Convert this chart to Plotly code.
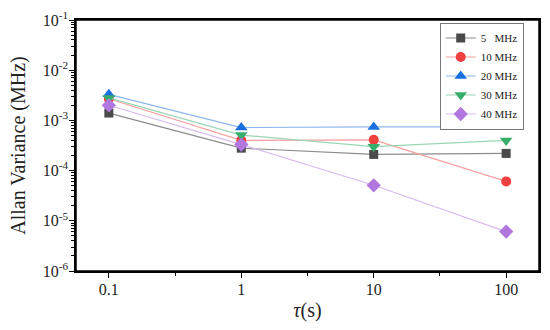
import plotly.graph_objects as go

tau = [0.1, 1, 10, 100]
names = ["5\u00a0\u00a0 MHz", "10 MHz", "20 MHz", "30 MHz", "40 MHz"]
v5 = [1.4e-3, 2.8e-4, 2.1e-4, 2.2e-4]
v10 = [2.7e-3, 4.0e-4, 4.1e-4, 6.1e-5]
v20 = [3.3e-3, 7.2e-4, 7.4e-4, 7.4e-4]
v30 = [2.8e-3, 5.1e-4, 3.0e-4, 4.0e-4]
v40 = [2.0e-3, 3.3e-4, 5.1e-5, 6.1e-6]
series = [v5, v10, v20, v30, v40]

marker_colors = ["#4a4a4a", "#F14040", "#1A6FDF", "#37AD6B", "#B177DE"]
line_colors = ["#8c8c8c", "#F7A0A0", "#8DB7EF", "#9AD6B4", "#D8BBEE"]
symbols = ["square", "circle", "triangle-up", "triangle-down", "diamond"]
msizes = [9, 10, 11, 11, 11]

ytick_vals = [1e-6, 1e-5, 1e-4, 1e-3, 1e-2, 1e-1]
ytick_text = ["10<sup>-6</sup>", "10<sup>-5</sup>", "10<sup>-4</sup>",
              "10<sup>-3</sup>", "10<sup>-2</sup>", "10<sup>-1</sup>"]
xtick_vals = [0.1, 1, 10, 100]
xtick_text = ["0.1", "1", "10", "100"]

# all tick positions (major + minor) on the main axes; labels only at majors
y_all = []
y_all_text = []
for e in range(-6, -1):
    for m in range(1, 10):
        y_all.append(m * 10.0 ** e)
        y_all_text.append(ytick_text[e + 6] if m == 1 else "")
y_all.append(1e-1)
y_all_text.append(ytick_text[-1])

x_all = []
x_all_text = []
for i, (v, t) in enumerate(zip(xtick_vals, xtick_text)):
    x_all.append(v)
    x_all_text.append(t)
    if i < len(xtick_vals) - 1:
        x_all.append(v * 10 ** 0.5)
        x_all_text.append("")

fig = go.Figure()
for n, v, mc, lc, s, ms in zip(names, series, marker_colors, line_colors, symbols, msizes):
    fig.add_trace(go.Scatter(
        x=tau, y=v, name=n, mode="lines+markers",
        line=dict(color=lc, width=1.2),
        marker=dict(color=mc, symbol=s, size=ms, line=dict(width=0)),
    ))

# invisible trace to create overlay axes for the longer major ticks
fig.add_trace(go.Scatter(x=[1], y=[1e-3], xaxis="x2", yaxis="y2", mode="markers",
                         marker=dict(opacity=0), showlegend=False, hoverinfo="skip"))

font_family = "Liberation Serif, DejaVu Serif, serif"
xr = [-1.248, 2.248]
yr = [-6, -1]
fig.update_layout(
    width=550, height=330,
    margin=dict(l=76, r=9, t=16, b=59),
    paper_bgcolor="white", plot_bgcolor="white",
    font=dict(family=font_family, color="#222222", size=14),
    showlegend=True,
    legend=dict(
        x=0.967, y=0.99, xanchor="right", yanchor="top",
        bordercolor="#777777", borderwidth=1, bgcolor="white",
        font=dict(family="Liberation Serif, serif", size=11),
        tracegroupgap=0, itemwidth=30,
    ),
    xaxis=dict(
        type="log", range=xr,
        tickmode="array", tickvals=x_all, ticktext=x_all_text,
        ticks="outside", ticklen=3, tickwidth=1, tickcolor="black",
        showline=True, linecolor="black", linewidth=1.5, mirror=True,
        showgrid=False, zeroline=False,
        title=dict(text="<i>τ</i>(s)", font=dict(size=20, family=font_family), standoff=6),
        tickfont=dict(size=16),
    ),
    yaxis=dict(
        type="log", range=yr,
        tickmode="array", tickvals=y_all, ticktext=y_all_text,
        ticks="outside", ticklen=3, tickwidth=1, tickcolor="black",
        showline=True, linecolor="black", linewidth=1.5, mirror=True,
        showgrid=False, zeroline=False,
        title=dict(text="Allan Variance (MHz)", font=dict(size=20, family=font_family), standoff=12),
        tickfont=dict(size=16),
    ),
    xaxis2=dict(
        type="log", range=xr, overlaying="x", anchor="y", side="bottom",
        tickmode="array", tickvals=xtick_vals, ticks="outside", ticklen=6, tickwidth=1.2,
        tickcolor="black", showticklabels=False, showline=False, showgrid=False, zeroline=False,
    ),
    yaxis2=dict(
        type="log", range=yr, overlaying="y", anchor="x", side="left",
        tickmode="array", tickvals=ytick_vals, ticks="outside", ticklen=6, tickwidth=1.2,
        tickcolor="black", showticklabels=False, showline=False, showgrid=False, zeroline=False,
    ),
    shapes=[dict(type="rect", xref="paper", yref="paper", x0=0, x1=1, y0=0, y1=1,
                 line=dict(color="black", width=1.5), layer="above")],
)

fig.write_html("out.html", config={"displayModeBar": False},
               post_script="document.body.style.margin='0';document.body.style.overflow='hidden';")
